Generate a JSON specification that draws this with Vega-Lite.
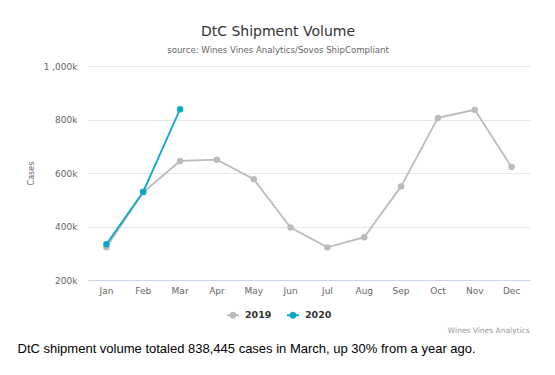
{
  "$schema": "https://vega.github.io/schema/vega-lite/v6.json",
  "width": 442,
  "height": 214,
  "autosize": {"type": "none"},
  "padding": {"left": 88, "top": 66, "right": 25, "bottom": 95},
  "background": "white",
  "config": {
    "view": {"stroke": null},
    "font": "DejaVu Sans"
  },
  "title": {
    "text": "DtC Shipment Volume",
    "subtitle": "source: Wines Vines Analytics/Sovos ShipCompliant",
    "anchor": "middle",
    "frame": "group",
    "dx": -31,
    "font": "DejaVu Sans",
    "fontSize": 14,
    "fontWeight": "normal",
    "color": "#333333",
    "subtitleFont": "DejaVu Sans",
    "subtitleFontSize": 8.6,
    "subtitleColor": "#666666",
    "subtitlePadding": 7,
    "offset": 7
  },
  "datasets": {
    "ship": [
      {"month": "Jan", "year": "2019", "cases": 322000},
      {"month": "Feb", "year": "2019", "cases": 528000},
      {"month": "Mar", "year": "2019", "cases": 645000},
      {"month": "Apr", "year": "2019", "cases": 650000},
      {"month": "May", "year": "2019", "cases": 577000},
      {"month": "Jun", "year": "2019", "cases": 396000},
      {"month": "Jul", "year": "2019", "cases": 322000},
      {"month": "Aug", "year": "2019", "cases": 360000},
      {"month": "Sep", "year": "2019", "cases": 550000},
      {"month": "Oct", "year": "2019", "cases": 806000},
      {"month": "Nov", "year": "2019", "cases": 836000},
      {"month": "Dec", "year": "2019", "cases": 622000},
      {"month": "Jan", "year": "2020", "cases": 334000},
      {"month": "Feb", "year": "2020", "cases": 530000},
      {"month": "Mar", "year": "2020", "cases": 838445}
    ],
    "credit": [
      {"month": "Dec", "cases": 9400, "label": "Wines Vines Analytics"}
    ]
  },
  "encoding": {
    "x": {
      "field": "month",
      "type": "nominal",
      "sort": ["Jan","Feb","Mar","Apr","May","Jun","Jul","Aug","Sep","Oct","Nov","Dec"],
      "scale": {"type": "band", "domain": ["Jan","Feb","Mar","Apr","May","Jun","Jul","Aug","Sep","Oct","Nov","Dec"], "paddingInner": 0, "paddingOuter": 0},
      "axis": {
        "title": "DtC shipment volume totaled 838,445 cases in March, up 30% from a year ago.",
        "titleFont": "Liberation Sans",
        "titleFontSize": 13,
        "titleFontWeight": "normal",
        "titleColor": "#000000",
        "titleAnchor": "start",
        "titleAlign": "left",
        "titleBaseline": "alphabetic",
        "titleX": -71,
        "titleY": 72,
        "labelAngle": 0,
        "labelFont": "DejaVu Sans",
        "labelFontSize": 9,
        "labelColor": "#666666",
        "labelPadding": 6,
        "ticks": false,
        "domainColor": "#ccd6eb",
        "domainWidth": 1,
        "grid": false,
        "zindex": 1
      }
    },
    "y": {
      "field": "cases",
      "type": "quantitative",
      "scale": {"domain": [200000, 1000000], "nice": false, "zero": false},
      "axis": {
        "title": "Cases",
        "titleFont": "DejaVu Sans",
        "titleFontSize": 8,
        "titleFontWeight": "normal",
        "titleColor": "#666666",
        "titlePadding": 8,
        "values": [200000, 400000, 600000, 800000, 1000000],
        "labelExpr": "datum.value >= 1000000 ? '1 ,000k' : format(datum.value / 1000, 'd') + 'k'",
        "labelFont": "DejaVu Sans",
        "labelFontSize": 9,
        "labelColor": "#666666",
        "labelPadding": 11,
        "ticks": false,
        "domain": false,
        "gridColor": "#e6e6e6",
        "gridWidth": 1
      }
    }
  },
  "layer": [
    {
      "data": {"name": "ship"},
      "mark": {"type": "line", "strokeWidth": 1.8, "point": {"filled": true, "size": 42, "opacity": 1}},
      "encoding": {
        "color": {
          "field": "year",
          "type": "nominal",
          "scale": {"domain": ["2019", "2020"], "range": ["#bbbbbb", "#0ba8c9"]},
          "legend": {
            "title": null,
            "orient": "none",
            "legendX": 139,
            "legendY": 243,
            "direction": "horizontal",
            "symbolType": "M-1,-0.15L1,-0.15L1,0.15L-1,0.15Z M0.58,0A0.58,0.58,0,1,1,-0.58,0A0.58,0.58,0,1,1,0.58,0Z",
            "symbolSize": 144,
            "symbolStrokeWidth": 0,
            "labelFont": "DejaVu Sans",
            "labelFontSize": 9.5,
            "labelFontWeight": "bold",
            "labelColor": "#333333",
            "labelOffset": 6,
            "columnPadding": 15,
            "encode": {
              "symbols": {
                "update": {
                  "shape": {"value": "M-1,-0.15L1,-0.15L1,0.15L-1,0.15Z M0.58,0A0.58,0.58,0,1,1,-0.58,0A0.58,0.58,0,1,1,0.58,0Z"},
                  "size": {"value": 144},
                  "fill": {"scale": "color", "field": "value"},
                  "fillOpacity": {"value": 1},
                  "strokeWidth": {"value": 0}
                }
              }
            }
          }
        }
      }
    },
    {
      "data": {"name": "credit"},
      "mark": {"type": "text", "align": "right", "baseline": "middle", "dx": 18, "font": "DejaVu Sans", "fontSize": 7.5, "color": "#999999"},
      "encoding": {
        "text": {"field": "label"}
      }
    }
  ]
}
